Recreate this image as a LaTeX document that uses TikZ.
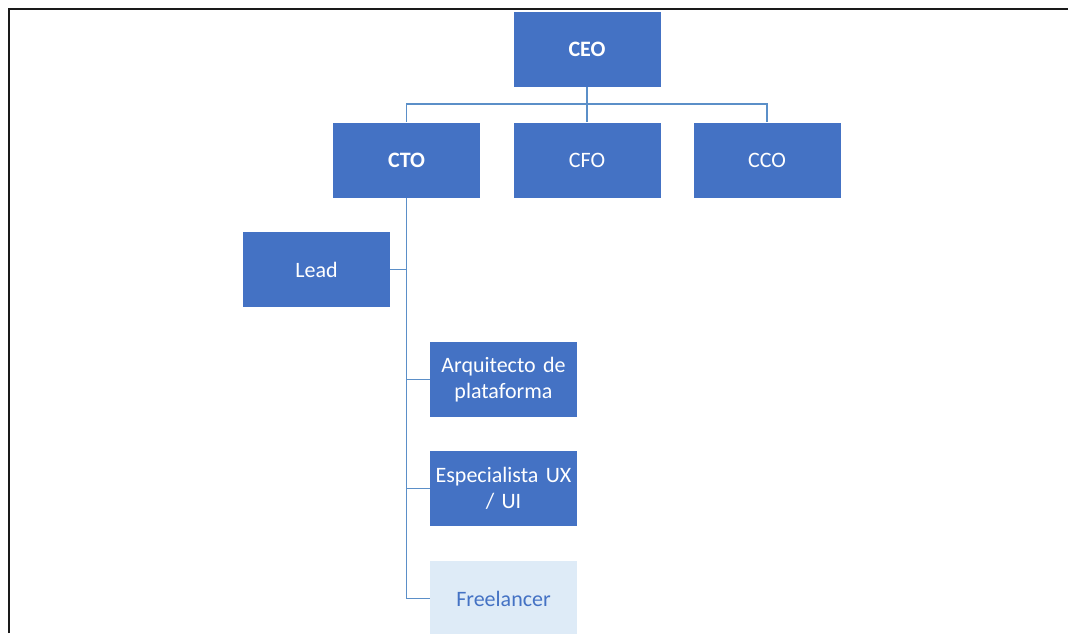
\documentclass[tikz,border=0pt]{standalone}
\usepackage{fontspec}
\setmainfont{Carlito}
\definecolor{boxblue}{HTML}{4472C4}
\definecolor{lineblue}{HTML}{5B8FC8}
\definecolor{paleblue}{HTML}{DEEBF7}
\definecolor{frame}{HTML}{1A1A1A}
\begin{document}
\begin{tikzpicture}[x=1pt,y=-1pt,
  role/.style={rectangle, fill=boxblue, text=white, minimum width=147pt,
    minimum height=75pt, inner sep=1pt, align=center, text width=145pt,
    font=\fontsize{22}{25.5}\selectfont},
  vacant/.style={role, fill=paleblue, text=boxblue},
  conn/.style={draw=lineblue, line width=1.8pt}]
\useasboundingbox (0,0) rectangle (1068,633);
\clip (0,0) rectangle (1068,633);
\fill[white] (0,0) rectangle (1068,633);
% outer frame (top and left edges only)
\draw[frame, line width=2pt] (8.5,633) -- (8.5,8.5) -- (1068,8.5);

% boxes
\node[role] (ceo) at (587,49.5) {\bfseries CEO};
\node[role] (cto) at (406.5,160) {\bfseries CTO};
\node[role] (cfo) at (587,160) {CFO};
\node[role] (cco) at (767,160) {CCO};
\node[role] (lead) at (316.5,269.5) {Lead};
\node[role] (arq) at (503.5,379.5) {Arquitecto de\\plataforma};
\node[role] (ux) at (503.5,488.5) {Especialista UX\\/ UI};
\node[vacant] (free) at (503.5,598.5) {Freelancer};

% connectors
\coordinate (bus) at (587,104);
\draw[conn] (ceo.south) -- (bus);
\draw[conn] (bus) -| (cto.north);
\draw[conn] (bus) -| (cco.north);
\draw[conn] (bus) -- (cfo.north);
\draw[conn] (cto.south) |- (free.west);
\draw[conn] (lead.east) -- (lead.east -| cto.south);
\draw[conn] (arq.west) -- (arq.west -| cto.south);
\draw[conn] (ux.west) -- (ux.west -| cto.south);
\end{tikzpicture}
\end{document}
